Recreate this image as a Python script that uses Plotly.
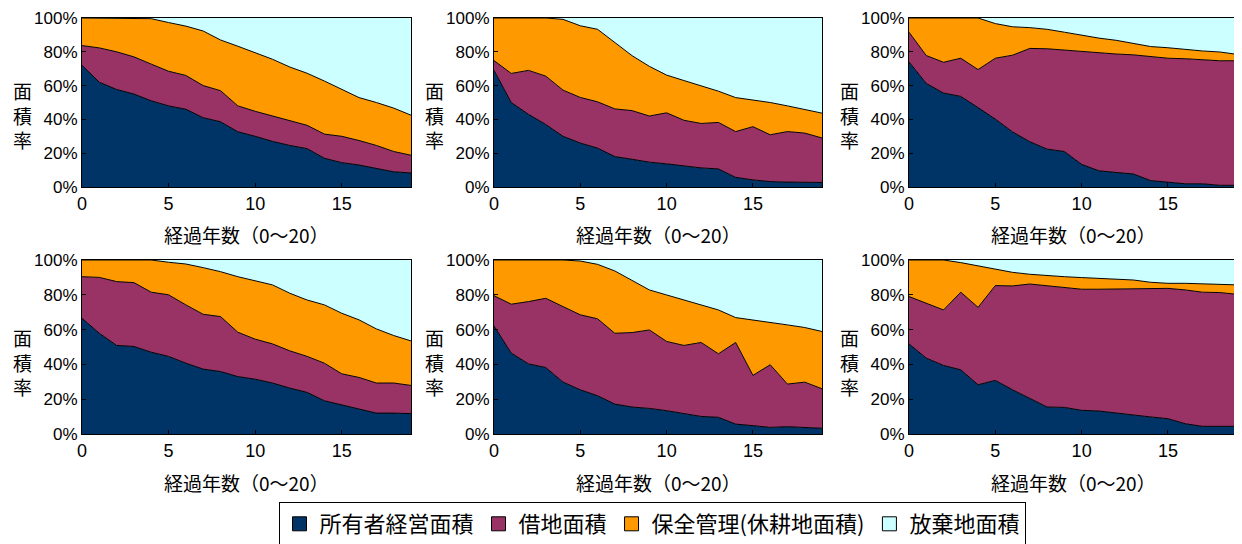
import plotly.graph_objects as go

years = list(range(20))
x_ticks = [0, 5, 10, 15]
y_ticks = [0, 20, 40, 60, 80, 100]
y_tick_labels = ["0%", "20%", "40%", "60%", "80%", "100%"]
series_names = ["所有者経営面積", "借地面積", "保全管理(休耕地面積)", "放棄地面積"]
series_colors = ["#003366", "#993366", "#FF9900", "#CCFFFF"]

# Cumulative upper boundaries (%) of each band
p1_owner = [72, 62, 57.7, 55, 51, 48, 46, 41, 38.6, 32.7, 30, 27, 24.6, 22.7, 17, 14.4, 13, 11, 9, 8.3]
p1_lease = [83.7, 82.3, 80, 77, 72.7, 68.5, 66, 60, 57, 48, 44.8, 42, 39, 36.5, 31.3, 30, 27.5, 24.6, 21, 18.8]
p1_keep = [100, 100, 100, 100, 99.6, 97.3, 95.2, 92.3, 87, 83.3, 79.4, 75.6, 71, 67.3, 62.7, 57.7, 52.9, 50, 46.7, 42.5]

p2_owner = [69, 50, 43, 37, 30, 26, 23, 18, 16.4, 14.7, 13.7, 12.4, 11.3, 10.7, 5.7, 4.2, 3.2, 2.9, 2.7, 2.7]
p2_lease = [74.8, 67.2, 69, 65.6, 57.3, 53, 50.4, 46.2, 45.2, 42, 43.9, 39.5, 37.6, 38.2, 32.8, 35.7, 30.9, 32.8, 31.9, 29]
p2_keep = [100, 100, 100, 100, 99.2, 95.4, 93.3, 85.3, 77.7, 71.4, 66.2, 63, 59.9, 56.7, 52.9, 51.5, 50, 48, 45.8, 43.7]

p3_owner = [74, 61.3, 55.6, 53.6, 47, 40.2, 32.6, 26.8, 22.4, 21, 13.4, 9.6, 8.6, 7.7, 3.8, 2.9, 1.9, 1.9, 1, 1]
p3_lease = [91.6, 77.8, 73.8, 76.2, 69.5, 76.2, 78, 82, 81.8, 81, 80, 79.1, 78.7, 78.2, 77.2, 76.2, 75.9, 75.3, 74.7, 74.7]
p3_keep = [100, 100, 100, 100, 100, 96.7, 94.8, 94.3, 93.3, 91.6, 89.7, 88.1, 86.8, 84.9, 83.1, 82.4, 81.4, 80.5, 79.9, 78.5]

p4_owner = [66.5, 57.9, 50.9, 50.3, 47, 44.6, 40.7, 37.3, 35.9, 33, 31.5, 29.3, 26.4, 23.9, 19.1, 16.8, 14.3, 12, 12, 11.7]
p4_lease = [90.4, 90, 87.6, 87, 81.5, 80, 74.2, 68.8, 67.5, 58.5, 54.5, 51.8, 47.8, 44.6, 40.7, 34.6, 32.5, 29.3, 29.3, 27.9]
p4_keep = [100, 100, 100, 100, 100, 98.7, 97.7, 95.6, 93.3, 90.4, 88.1, 85.7, 80.9, 77, 74.2, 69.4, 65.6, 60.4, 56.6, 53.5]

p5_owner = [62.1, 46.5, 40.3, 38.2, 29.8, 25.4, 22, 17.2, 15.5, 14.7, 13.4, 11.9, 10.1, 9.6, 5.7, 4.8, 3.8, 4.2, 3.6, 3.3]
p5_lease = [79.5, 74.6, 76.1, 78, 73.2, 68.5, 66.2, 57.9, 58.3, 59.8, 53.2, 50.9, 52.6, 46.1, 52.6, 33.7, 39.8, 28.7, 29.8, 26]
p5_keep = [100, 100, 100, 100, 100, 99.4, 97.5, 93.7, 88, 82.8, 79.9, 77, 73.8, 71.3, 66.9, 65.6, 64, 62.7, 61.2, 58.9]

p6_owner = [51.8, 43.6, 39.4, 36.9, 28.3, 30.8, 25.4, 20.3, 15.5, 15.3, 13.6, 13.2, 12, 10.7, 9.8, 8.8, 5.9, 4.4, 4.4, 4.4]
p6_lease = [79, 75.1, 71.3, 81.5, 72.8, 85.3, 85.1, 86.2, 85.1, 84.1, 83.2, 83.2, 83.4, 83.2, 83.4, 83.7, 82.8, 81.5, 81.3, 80.3]
p6_keep = [100, 100, 100, 98.5, 96.7, 94.8, 92.9, 91.8, 91, 90.4, 89.9, 89.5, 89.1, 88.5, 87.2, 86.6, 86.6, 86.2, 85.7, 85.7]

total = [100] * 20

panels = [
    (p1_owner, p1_lease, p1_keep),
    (p2_owner, p2_lease, p2_keep),
    (p3_owner, p3_lease, p3_keep),
    (p4_owner, p4_lease, p4_keep),
    (p5_owner, p5_lease, p5_keep),
    (p6_owner, p6_lease, p6_keep),
]

W, H = 1242, 544
OFF = 8  # page body margin offset
col_px = [(82, 411), (494, 822), (909, 1237)]
row_px = [(18, 187), (260, 434)]


def px_x(v):
    return (v - OFF) / W


def px_y(v):
    return 1 - (v - OFF) / H


fig = go.Figure()
layout = {}
annotations = []
tick_font = dict(family="Liberation Sans, Arial, sans-serif", color="#000000")
cjk = "Noto Sans CJK JP, sans-serif"

for i, (own, lease, keep) in enumerate(panels):
    r, c = divmod(i, 3)
    n = i + 1
    xa = "x" if n == 1 else f"x{n}"
    ya = "y" if n == 1 else f"y{n}"
    x0, x1 = col_px[c]
    y0, y1 = row_px[r]
    xd = [px_x(x0), px_x(x1)]
    yd = [px_y(y1), px_y(y0)]
    layout["xaxis" if n == 1 else f"xaxis{n}"] = dict(
        domain=xd, anchor=ya, range=[0, 19], tickmode="array", tickvals=x_ticks,
        ticktext=[str(v) for v in x_ticks], ticklabeloverflow="allow",
        ticks="inside", ticklen=4, tickcolor="#000", showgrid=False, zeroline=False,
        showline=True, linecolor="#000", linewidth=1, mirror=True, automargin=False,
        tickfont=dict(size=18, **tick_font), fixedrange=True,
    )
    layout["yaxis" if n == 1 else f"yaxis{n}"] = dict(
        domain=yd, anchor=xa, range=[0, 100], tickmode="array", tickvals=y_ticks,
        ticktext=y_tick_labels, ticklabeloverflow="allow",
        ticks="inside", ticklen=4, tickcolor="#000", showgrid=False, zeroline=False,
        showline=True, linecolor="#000", linewidth=1, mirror=True, automargin=False,
        tickfont=dict(size=17, **tick_font), fixedrange=True,
    )
    bounds = [own, lease, keep, total]
    for k, ys in enumerate(bounds):
        fig.add_trace(go.Scatter(
            x=years, y=ys, xaxis=xa, yaxis=ya, mode="lines",
            line=dict(color="#000000", width=1 if k < 3 else 0),
            fill="tozeroy" if k == 0 else "tonexty",
            fillcolor=series_colors[k], name=series_names[k],
            showlegend=False, hoverinfo="skip",
        ))
    annotations.append(dict(
        text="経過年数（0〜20）", x=px_x((x0 + x1) / 2), y=px_y(y1 + 48),
        xref="paper", yref="paper", showarrow=False, xanchor="center", yanchor="middle",
        font=dict(family=cjk, size=19, color="#000"),
    ))
    annotations.append(dict(
        text="面<br>積<br>率", x=px_x(x0 - 60), y=px_y(row_px[r][1] - 72),
        xref="paper", yref="paper", showarrow=False, xanchor="center", yanchor="middle",
        font=dict(family=cjk, size=19, color="#000"),
    ))

# legend entries: square markers
for k in range(4):
    fig.add_trace(go.Scatter(
        x=[None], y=[None], mode="markers", name=series_names[k],
        marker=dict(symbol="square", size=14, color=series_colors[k],
                    line=dict(color="#000", width=1)),
        showlegend=True,
    ))

fig.update_layout(
    **layout,
    annotations=annotations,
    width=W, height=H,
    margin=dict(l=0, r=0, t=0, b=0),
    paper_bgcolor="#ffffff", plot_bgcolor="#ffffff",
    showlegend=True,
    legend=dict(
        orientation="h", traceorder="normal",
        x=px_x(652), xanchor="center", y=px_y(524), yanchor="middle",
        bordercolor="#000", borderwidth=1, bgcolor="#fff",
        font=dict(family=cjk, size=22, color="#000"),
        itemwidth=30, tracegroupgap=0,
    ),
)

fig.write_html("out.html")
